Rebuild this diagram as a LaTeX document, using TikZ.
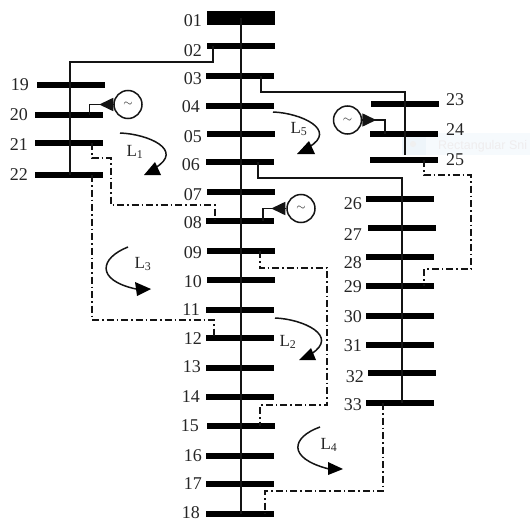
\documentclass[tikz,border=0pt]{standalone}
\usepackage{fontspec}
\setmainfont{Liberation Serif}
\setsansfont{Liberation Sans}
\usetikzlibrary{arrows.meta}
\definecolor{ink}{gray}{0.08}
\definecolor{lbl}{gray}{0.15}
\definecolor{snipbg}{HTML}{F6FAFD}
\definecolor{snipicon}{HTML}{EEF5FA}
\definecolor{sniptext}{HTML}{EFEDEE}
\tikzset{
  x=1pt,y=-1pt,
  bus/.style={fill=black,inner sep=0pt,minimum width=68pt,minimum height=6pt,outer sep=0pt},
  slack/.style={fill=black,inner sep=0pt,minimum width=68pt,minimum height=14pt,outer sep=0pt},
  num/.style={font=\fontsize{18}{18}\selectfont,text=lbl,inner sep=0pt},
  loopname/.style={font=\fontsize{17}{17}\selectfont,text=lbl,inner sep=0pt},
  feeder/.style={draw=ink,line width=2pt},
  main/.style={draw=ink,line width=2.8pt},
  tie/.style={draw=ink,line width=1.05pt,dash pattern=on 7pt off 3pt on 1.5pt off 3pt},
  gen/.style={circle,draw=ink,line width=1.5pt,minimum size=28pt,inner sep=0pt,font=\fontsize{13}{13}\selectfont,text=lbl},
  genline/.style={draw=ink,line width=1.6pt},
  genarrow/.style={draw=ink,line width=1.6pt,-{Triangle[width=13pt,length=14pt]}},
  loopcurve/.style={draw=ink,line width=1.5pt},
  loophead/.style={fill=black},
}
\begin{document}
\begin{tikzpicture}
\useasboundingbox (0,0) rectangle (530,519);
\fill[white] (0,0) rectangle (530,519);
% faint snip overlay
\fill[snipbg] (402,133) rectangle (530,155);
\fill[snipicon] (402,133) rectangle (426,155);
\fill[gray!12] (413,144) circle (3);
\node[anchor=west,inner sep=0pt,font=\sffamily\fontsize{12.5}{12.5}\selectfont,text=sniptext] (snip) at (438,146) {Rectangular Sni};
% buses
\node[slack] (b01) at (241,18) {};
\foreach \n/\px/\py in {02/241/46,03/240/76,04/240/106,05/241/134,06/240/162,07/241/192,08/240/221,09/241/251,10/241/280,11/240/310,12/240/338,13/240/368,14/240/397,15/241/426,16/240/456,17/240/484,18/240/514,
  19/71/85,20/69/115,21/69/143,22/69/175,23/405/104,24/404/134,25/404/160,
  26/400/199,27/402/228,28/400/257,29/400/286,30/400/316,31/400/345,32/402/373,33/400/403}
  {\node[bus] (b\n) at (\px,\py) {};}
% bus numbers
\foreach \n/\px/\py in {01/202/21,02/202/51,03/202/79,04/200/107,05/202/137,06/200/165,07/202/195,08/202/223,09/202/253,10/202/282,11/200/310,12/202/339,13/201/367,14/200/397,15/199/426,16/202/456,17/202/484,18/200/512.5,
  19/29/85,20/28/115,21/28/145,22/28/175,
  26/362/204,27/362/235,28/362/263,29/362/287,30/362/317,31/362/346,32/364/377,33/362/405}
  {\node[num,anchor=east] (n\n) at (\px,\py) {\n};}
\foreach \n/\px/\py in {23/446/100,24/446/130,25/446/160}
  {\node[num,anchor=west] (n\n) at (\px,\py) {\n};}
% feeders
\coordinate (v19) at (69.5,62);
\coordinate (v23) at (405,92);
\coordinate (e25) at (405,155);
\coordinate (v26) at (401.5,178);
\draw[main] (b01.center) -- (b18.center -| b01.center);
\draw[feeder] ([xshift=-28pt]b02.center) |- (v19) -- (v19 |- b22.center);
\draw[feeder] ([xshift=21pt]b03.center) |- (v23) -- (e25);
\draw[feeder] ([xshift=18pt]b06.center) |- (v26) -- (v26 |- b33.center);
% generators
\node[gen] (g1) at (128,104.5) {$\sim$};
\node[gen] (g2) at (347.5,120) {$\sim$};
\node[gen] (g3) at (301,208.5) {$\sim$};
\coordinate (k1) at (89.5,104.5);
\coordinate (k2) at (385,120);
\coordinate (k3) at (263,208.5);
\draw[genarrow] (g1.west) -- ++(-14,0);
\draw[genarrow] (g2.east) -- ++(14,0);
\draw[genarrow] (g3.west) -- ++(-15,0);
\draw[genline] (g1.west) -- (k1) -- (k1 |- b20.center);
\draw[genline] (g2.east) -- (k2) -- (k2 |- b24.center);
\draw[genline] (g3.west) -- (k3) -- (k3 |- b08.center);
% tie lines
\draw[tie] ([xshift=23pt]b21.center) -- ++(0,15) -- ++(19,0) -- ++(0,47) -- ++(104,0) -- ([xshift=-25pt]b08.center);
\draw[tie] ([xshift=23pt]b22.center) -- ++(0,145) -- ++(122,0) -- ([xshift=-26pt]b12.center);
\draw[tie] ([xshift=19pt]b09.center) -- ++(0,17) -- ++(67,0) -- ++(0,137) -- ++(-67,0) -- ([xshift=19pt]b15.center);
\draw[tie] ([xshift=-17pt]b33.center) -- ++(0,88) -- ++(-118,0) -- ([xshift=25pt]b18.center);
\draw[tie] ([xshift=20pt]b25.center) -- ++(0,15) -- ++(47,0) -- ++(0,94) -- ++(-47,0) -- ([xshift=24pt]b29.center);
% loop arrows
\draw[loopcurve] (120,133) .. controls (148,134) and (185,150) .. (155,168);
\fill[loophead] (144,175) -- (161,175) -- (155,162) -- cycle;
\draw[loopcurve] (273,112) .. controls (301,113) and (338,130) .. (309,147);
\fill[loophead] (297,154) -- (315,154) -- (309,141) -- cycle;
\draw[loopcurve] (275,318) .. controls (303,319) and (340,336) .. (311,354);
\fill[loophead] (299,360) -- (316,360) -- (311,348) -- cycle;
\draw[loopcurve] (128,247) .. controls (100,258) and (95,280) .. (136,289);
\fill[loophead] (151,289) -- (135,282) -- (137,296) -- cycle;
\draw[loopcurve] (320,427) .. controls (292,437) and (286,458) .. (329,469);
\fill[loophead] (343,469) -- (328,462) -- (328,475) -- cycle;
% loop names
\node[loopname] (l1) at (135,152) {L\textsubscript{1}};
\node[loopname] (l2) at (288,342) {L\textsubscript{2}};
\node[loopname] (l3) at (143,264) {L\textsubscript{3}};
\node[loopname] (l4) at (329,445) {L\textsubscript{4}};
\node[loopname] (l5) at (299,129) {L\textsubscript{5}};
\end{tikzpicture}
\end{document}
